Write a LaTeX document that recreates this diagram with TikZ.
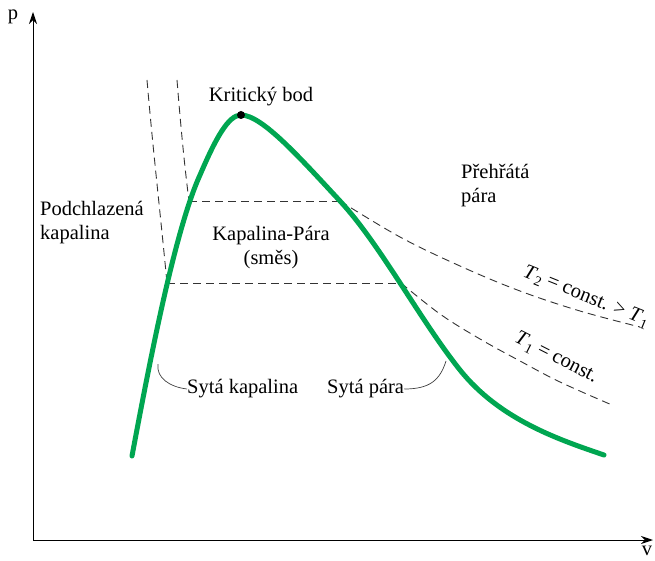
\documentclass[tikz,border=0pt]{standalone}
\usepackage{fontspec}
\setmainfont{Liberation Serif}
\usetikzlibrary{arrows.meta}
\definecolor{curvegreen}{RGB}{0,166,81}
\newcommand{\Tsub}[1]{\textit{T}\kern0.5pt\lower4pt\hbox{\fontsize{14}{14}\selectfont #1}}
\begin{document}
\begin{tikzpicture}[x=1pt,y=-1pt,
  lbl/.style={font=\fontsize{20.5}{24}\selectfont, inner sep=0pt, align=left},
  iso/.style={dashed, dash pattern=on 8pt off 5pt, line width=0.9pt, black!80},
  axisline/.style={line width=1pt, -{Stealth[length=12pt,width=8pt]}},
  leader/.style={line width=0.7pt, black!75}]
\useasboundingbox (0,0) rectangle (655,561);
% axes
\coordinate (O) at (33,540);
\coordinate (ytop) at (33,12);
\coordinate (xend) at (653,540);
\draw[axisline] (O) -- (ytop);
\draw[axisline] (O) -- (xend);
\node[lbl, anchor=center] (plab) at (13,17) {p};
\node[lbl, anchor=center] (vlab) at (647,551) {v};
% isotherm points
\coordinate (Lliq) at (167,283);
\coordinate (Lvap) at (401,283);
\coordinate (Uliq) at (189,201);
\coordinate (Uvap) at (340,201);
% steep liquid parts
\draw[iso] (147,80) .. controls (153,150) and (160,210) .. (Lliq);
\draw[iso] (177,80) .. controls (181,130) and (185,170) .. (Uliq);
% horizontal parts
\draw[iso] (Lliq) -- (Lvap);
\draw[iso] (Uliq) -- (Uvap);
% vapour parts
\draw[iso] plot[smooth, tension=0.6] coordinates {(340,201) (400,237) (460,266) (520,291) (580,311) (640,327)};
\draw[iso] plot[smooth, tension=0.6] coordinates {(401,283) (440,314) (480,339) (520,361) (560,382) (612,405)};
% saturation curve
\draw[curvegreen, line width=5pt, line cap=round]
  (132,456) .. controls (150,360) and (175,230) .. (200,175)
  .. controls (215,140) and (228,115) .. (241,115)
  .. controls (262,115) and (300,158) .. (340,201)
  .. controls (380,244) and (420,320) .. (460,370)
  .. controls (500,420) and (560,440) .. (604,455);
% critical point
\coordinate (crit) at (241,115);
\fill[black] (crit) circle (4pt);
\node[lbl, anchor=center] (kb) at (261,97) {Kritický bod};
% labels
\node[lbl, anchor=west] (podch) at (40,223) {Podchlazená\\kapalina};
\node[lbl, anchor=center, align=center] (kp) at (271,248) {Kapalina-Pára\\(směs)};
\node[lbl, anchor=west] (preh) at (461,186) {Přehřátá\\pára};
\node[lbl, anchor=west] (sk) at (187,389) {Sytá kapalina};
\node[lbl, anchor=west] (sp) at (327,389) {Sytá pára};
\node[lbl, anchor=center, rotate=-22] (t2) at (586,297) {\Tsub{2} = const. > \Tsub{1}};
\node[lbl, anchor=center, rotate=-27] (t1) at (556,358) {\Tsub{1} = const.};
% leaders
\coordinate (skpt) at (158,364);
\coordinate (sppt) at (446,361);
\draw[leader] (skpt) .. controls (156,378) and (170,387) .. (sk.west);
\draw[leader] (sp.east) .. controls (430,389) and (440,380) .. (sppt);
\end{tikzpicture}
\end{document}
